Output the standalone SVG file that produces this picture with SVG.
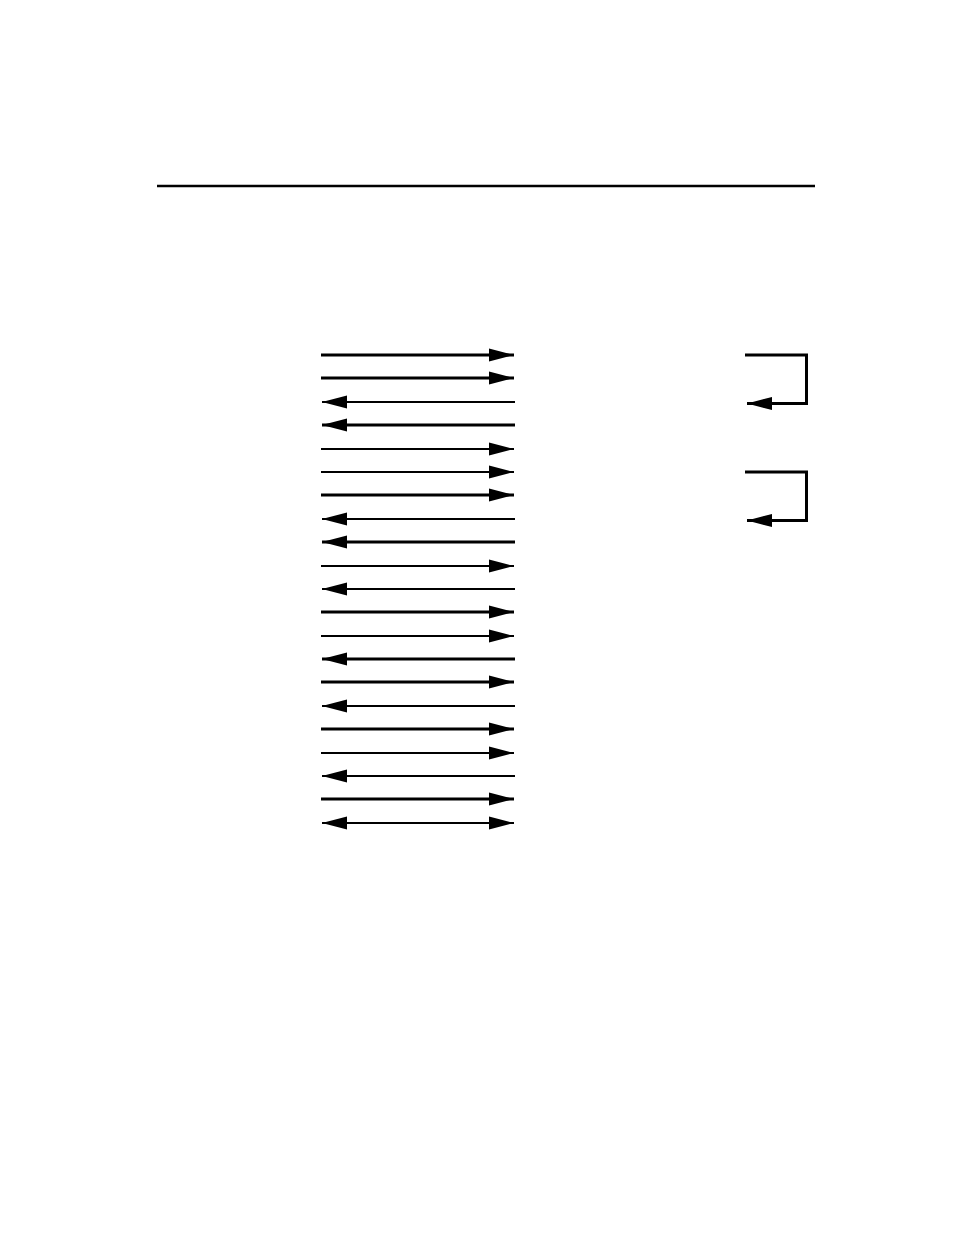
<svg xmlns="http://www.w3.org/2000/svg" width="954" height="1235" viewBox="0 0 954 1235">
<style>
.a{fill:none;stroke:#000;marker-end:url(#h)}
.k{stroke-width:3}
.t{stroke-width:2}
</style>
<defs>
<marker id="h" markerUnits="userSpaceOnUse" markerWidth="26" markerHeight="14" refX="25" refY="6.5" orient="auto-start-reverse" overflow="visible">
<path d="M0,0 L25,6.5 L0,13 Z" fill="#000"/>
</marker>
</defs>
<rect width="954" height="1235" fill="#fff"/>
<line x1="157" y1="186" x2="815" y2="186" stroke="#000" stroke-width="2.5"/>
<g id="connectors">
<path class="a k" d="M321,355H514"/>
<path class="a k" d="M321,378H514"/>
<path class="a t" d="M515,402H322"/>
<path class="a k" d="M515,425H322"/>
<path class="a t" d="M321,449H514"/>
<path class="a t" d="M321,472H514"/>
<path class="a k" d="M321,495H514"/>
<path class="a t" d="M515,519H322"/>
<path class="a k" d="M515,542H322"/>
<path class="a t" d="M321,566H514"/>
<path class="a t" d="M515,589H322"/>
<path class="a k" d="M321,612H514"/>
<path class="a t" d="M321,636H514"/>
<path class="a k" d="M515,659H322"/>
<path class="a k" d="M321,682H514"/>
<path class="a t" d="M515,706H322"/>
<path class="a k" d="M321,729H514"/>
<path class="a t" d="M321,753H514"/>
<path class="a t" d="M515,776H322"/>
<path class="a k" d="M321,799H514"/>
<path class="a t" d="M322,823H514" marker-start="url(#h)"/>
<path class="a k" d="M745,355H806.5V403.5H747"/>
<path class="a k" d="M745,472H806.5V520.5H747"/>
</g>
</svg>
